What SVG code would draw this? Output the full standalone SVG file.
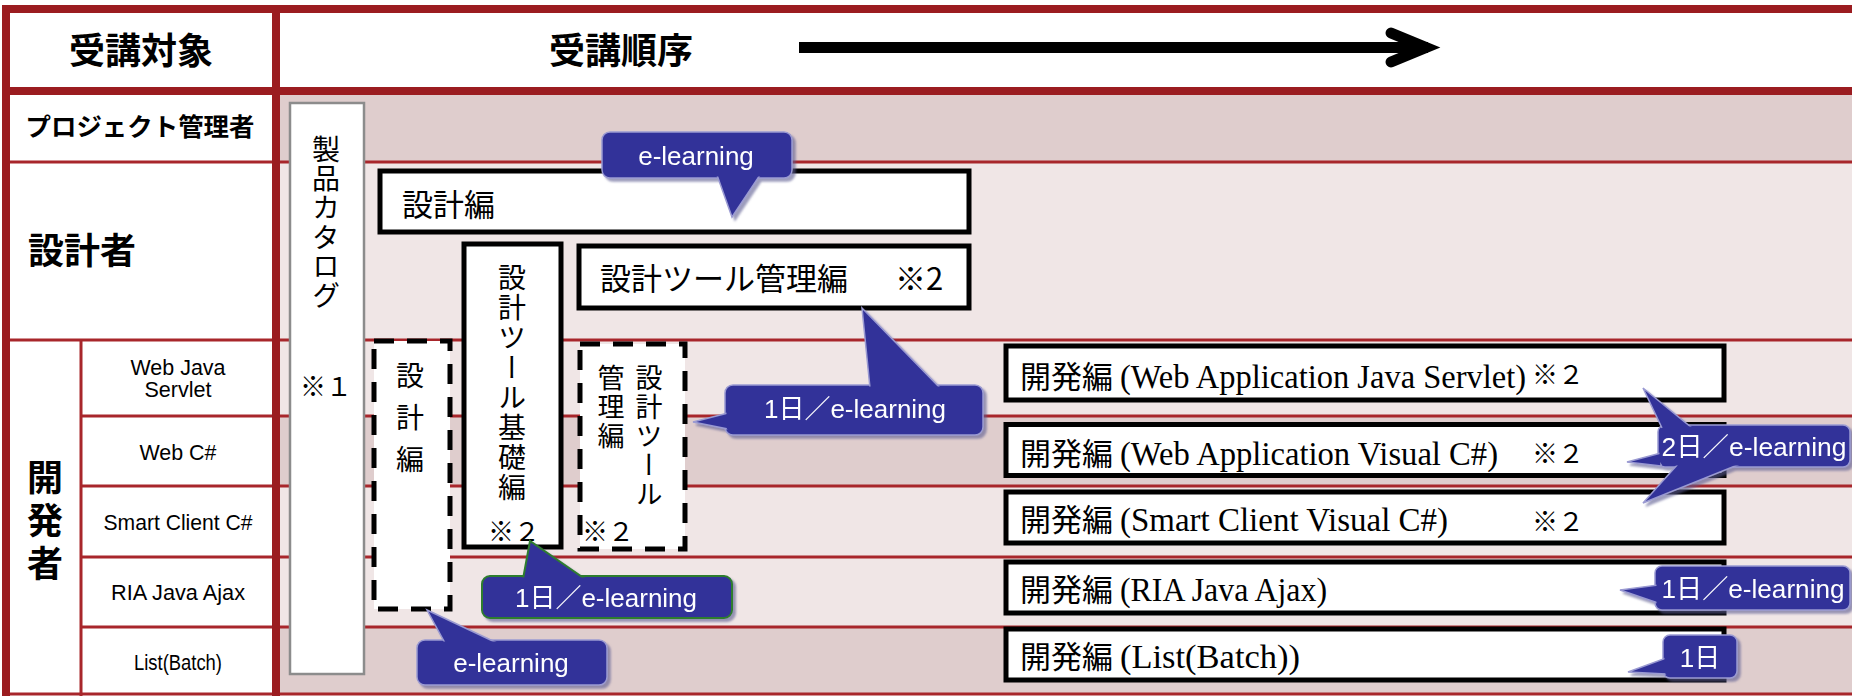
<svg xmlns="http://www.w3.org/2000/svg" width="1852" height="696" viewBox="0 0 1852 696">
<defs>
<style>
.frame{stroke:#9b1c20;stroke-width:8;fill:none}
.thin{stroke:#a8262b;stroke-width:3;fill:none}
.dark{fill:#dfcdcd}
.light{fill:#f0e6e6}
.box{fill:#fff;stroke:#000;stroke-width:5}
.dbox{fill:#fff;stroke:#000;stroke-width:5;stroke-dasharray:20 13}
.jp{font-family:"Noto Sans CJK JP",sans-serif;fill:#000}
.hb{font-family:"Noto Sans CJK JP",sans-serif;font-weight:bold;fill:#000}
.lbl{font-family:"Liberation Sans","Noto Sans CJK JP",sans-serif;font-size:22px;text-anchor:middle;fill:#000}
.ser{font-family:"Liberation Serif","Noto Serif CJK JP",serif;font-size:33px;fill:#000}
.vt{writing-mode:vertical-rl;font-family:"Noto Sans CJK JP",sans-serif;fill:#000}
.co{fill:#333399;stroke:#9a9ad2;stroke-width:1.5}
.cog{fill:#333399;stroke:#2e7d2e;stroke-width:2}
.ci{fill:#333399}
.cot{fill:#fff;font-family:"Liberation Sans","Noto Sans CJK JP",sans-serif;font-size:26px;text-anchor:middle}
</style>
<filter id="sh" x="-10%" y="-10%" width="130%" height="140%">
<feDropShadow dx="3" dy="3" stdDeviation="1.2" flood-color="#5a5a90" flood-opacity="0.6"/>
</filter>
</defs>

<g id="background">
<rect x="0" y="0" width="1852" height="696" fill="#fff"/>
<rect class="dark" x="280" y="95" width="1572" height="67"/>
<rect class="light" x="280" y="162" width="1572" height="178"/>
<rect class="light" x="280" y="340" width="1572" height="76"/>
<rect class="dark" x="280" y="416" width="1572" height="70"/>
<rect class="light" x="280" y="486" width="1572" height="71"/>
<rect class="light" x="280" y="557" width="1572" height="70"/>
<rect class="dark" x="280" y="627" width="1572" height="67"/>
</g>

<g id="grid">
<line class="thin" x1="6" y1="162" x2="1852" y2="162"/>
<line class="thin" x1="6" y1="340" x2="1852" y2="340"/>
<line class="thin" x1="81" y1="416" x2="1852" y2="416"/>
<line class="thin" x1="81" y1="486" x2="1852" y2="486"/>
<line class="thin" x1="81" y1="557" x2="1852" y2="557"/>
<line class="thin" x1="81" y1="627" x2="1852" y2="627"/>
<line class="thin" x1="2" y1="694" x2="1852" y2="694"/>
<line class="thin" x1="81" y1="340" x2="81" y2="696"/>
<line class="frame" x1="2" y1="9" x2="1852" y2="9"/>
<line class="frame" x1="2" y1="91" x2="1852" y2="91"/>
<line class="frame" x1="6" y1="5" x2="6" y2="696"/>
<line class="frame" x1="276" y1="5" x2="276" y2="696"/>
</g>

<g id="header">
<text class="hb" x="141" y="64" font-size="36" text-anchor="middle">受講対象</text>
<text class="hb" x="621" y="64" font-size="36" text-anchor="middle">受講順序</text>
<g id="order-arrow" stroke="#000" stroke-width="11" fill="none">
<line x1="799" y1="47.5" x2="1428" y2="47.5"/>
<polyline points="1391,33 1426,47.5 1391,62" stroke-linecap="round" stroke-linejoin="miter" stroke-miterlimit="10"/>
</g>
</g>

<g id="row-labels">
<text class="hb" x="140" y="136" font-size="25" text-anchor="middle" textLength="229" lengthAdjust="spacingAndGlyphs">プロジェクト管理者</text>
<text class="hb" x="28" y="264" font-size="36">設計者</text>
<text class="vt" x="45" y="459" font-size="36" font-weight="bold" letter-spacing="7">開発者</text>
<text class="lbl" x="178" y="375" textLength="95" lengthAdjust="spacingAndGlyphs">Web Java</text>
<text class="lbl" x="178" y="397" textLength="67" lengthAdjust="spacingAndGlyphs">Servlet</text>
<text class="lbl" x="178" y="460" textLength="77" lengthAdjust="spacingAndGlyphs">Web C#</text>
<text class="lbl" x="178" y="530" textLength="149" lengthAdjust="spacingAndGlyphs">Smart Client C#</text>
<text class="lbl" x="178" y="600" textLength="134" lengthAdjust="spacingAndGlyphs">RIA Java Ajax</text>
<text class="lbl" x="178" y="670" font-size="19" textLength="88" lengthAdjust="spacingAndGlyphs">List(Batch)</text>
</g>

<g id="catalog">
<rect x="290" y="103" width="74" height="571" fill="#fff" stroke="#8c8c8c" stroke-width="2.5"/>
<text class="vt" x="326" y="135" font-size="28" letter-spacing="1.3">製品カタログ</text>
<text class="jp" x="326" y="396" font-size="26" text-anchor="middle">※１</text>
</g>

<g id="design">
<rect class="box" x="380" y="171" width="589" height="61"/>
<text class="jp" x="402" y="216" font-size="31">設計編</text>
</g>

<g id="design-tool-admin">
<rect class="box" x="579" y="246" width="390" height="62"/>
<text class="jp" x="600" y="290" font-size="31">設計ツール管理編<tspan x="895">※2</tspan></text>
</g>

<g id="design-tool-basic">
<rect class="box" x="464" y="244" width="97" height="303"/>
<text class="vt" x="512" y="263" font-size="28" letter-spacing="2">設計ツール基礎編</text>
<text class="jp" x="514" y="541" font-size="26" text-anchor="middle">※２</text>
</g>

<g id="design-dev">
<rect class="dbox" x="374" y="341" width="76" height="268"/>
<text class="vt" x="410" y="361" font-size="28" letter-spacing="14">設計編</text>
</g>

<g id="design-tool-admin-dev">
<rect class="dbox" x="580" y="344" width="105" height="205"/>
<text class="vt" x="649" y="364" font-size="27" letter-spacing="2">設計ツール</text>
<text class="vt" x="611" y="364" font-size="27" letter-spacing="2">管理編</text>
<text class="jp" x="608" y="541" font-size="26" text-anchor="middle">※２</text>
</g>

<g id="dev-servlet">
<rect class="box" x="1006" y="346" width="718" height="54"/>
<text class="jp" x="1020" y="388" font-size="31">開発編</text>
<text class="ser" x="1120" y="388" textLength="406" lengthAdjust="spacingAndGlyphs">(Web Application Java Servlet)</text>
<text class="jp" x="1558" y="384" font-size="26" text-anchor="middle">※２</text>
</g>

<g id="dev-webcs">
<rect class="box" x="1006" y="424.5" width="718" height="51"/>
<text class="jp" x="1020" y="465" font-size="31">開発編</text>
<text class="ser" x="1120" y="465" textLength="378" lengthAdjust="spacingAndGlyphs">(Web Application Visual C#)</text>
<text class="jp" x="1558" y="463" font-size="26" text-anchor="middle">※２</text>
</g>

<g id="dev-smart">
<rect class="box" x="1006" y="492" width="718" height="51"/>
<text class="jp" x="1020" y="531" font-size="31">開発編</text>
<text class="ser" x="1120" y="531" textLength="328" lengthAdjust="spacingAndGlyphs">(Smart Client Visual C#)</text>
<text class="jp" x="1558" y="531" font-size="26" text-anchor="middle">※２</text>
</g>

<g id="dev-ria">
<rect class="box" x="1006" y="562" width="718" height="51"/>
<text class="jp" x="1020" y="601" font-size="31">開発編</text>
<text class="ser" x="1120" y="601" textLength="207" lengthAdjust="spacingAndGlyphs">(RIA Java Ajax)</text>
</g>

<g id="dev-list">
<rect class="box" x="1006" y="629" width="718" height="51"/>
<text class="jp" x="1020" y="668" font-size="31">開発編</text>
<text class="ser" x="1120" y="668" textLength="180" lengthAdjust="spacingAndGlyphs">(List(Batch))</text>
</g>

<g id="connectors">
<g id="c-design-el" filter="url(#sh)">
<rect class="co" x="602" y="132" width="190" height="46" rx="8"/>
<polygon class="co" points="717,175 760,175 732,217"/>
<rect class="ci" x="603.5" y="133.5" width="187" height="43" rx="7"/>
<text class="cot" x="696" y="165">e-learning</text>
</g>
<g id="c-admin" filter="url(#sh)">
<rect class="co" x="725" y="385" width="258" height="50" rx="8"/>
<polygon class="co" points="870,388 940,388 862,308"/>
<polygon class="co" points="728,413 728,429 693,422"/>
<rect class="ci" x="726.5" y="386.5" width="255" height="47" rx="7"/>
<text class="cot" x="855" y="418">1日／e-learning</text>
</g>
<g id="c-basic" filter="url(#sh)">
<rect class="cog" x="482" y="576" width="250" height="42" rx="8"/>
<polygon class="cog" points="523,579 585,579 530,541"/>
<rect class="ci" x="483.5" y="577.5" width="247" height="39" rx="7"/>
<text class="cot" x="606" y="607">1日／e-learning</text>
</g>
<g id="c-design-dev" filter="url(#sh)">
<rect class="co" x="417" y="640" width="190" height="45" rx="8"/>
<polygon class="co" points="445,643 497,643 427,610"/>
<rect class="ci" x="418.5" y="641.5" width="187" height="42" rx="7"/>
<text class="cot" x="511" y="672">e-learning</text>
</g>
<g id="c-web" filter="url(#sh)">
<rect class="co" x="1658" y="425" width="192" height="42" rx="7"/>
<polygon class="co" points="1662,428 1692,428 1643,388"/>
<polygon class="co" points="1661,453 1661,466 1627,462"/>
<polygon class="co" points="1678,464 1740,464 1643,503"/>
<rect class="ci" x="1659.5" y="426.5" width="189" height="39" rx="6"/>
<text class="cot" x="1754" y="456" textLength="185" lengthAdjust="spacingAndGlyphs">2日／e-learning</text>
</g>
<g id="c-ria" filter="url(#sh)">
<rect class="co" x="1655" y="566" width="195" height="44" rx="7"/>
<polygon class="co" points="1658,585 1658,603 1620,590"/>
<rect class="ci" x="1656.5" y="567.5" width="192" height="41" rx="6"/>
<text class="cot" x="1753" y="598" textLength="183" lengthAdjust="spacingAndGlyphs">1日／e-learning</text>
</g>
<g id="c-list" filter="url(#sh)">
<rect class="co" x="1663" y="635" width="74" height="43" rx="7"/>
<polygon class="co" points="1666,658 1666,674 1628,672"/>
<rect class="ci" x="1664.5" y="636.5" width="71" height="40" rx="6"/>
<text class="cot" x="1700" y="667">1日</text>
</g>
</g>
</svg>
